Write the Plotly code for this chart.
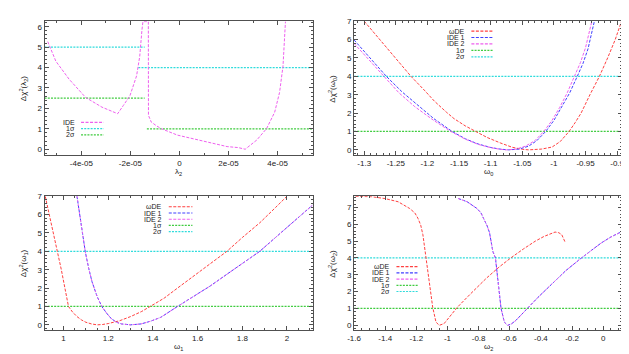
import plotly.graph_objects as go

W, H = 629, 354

RED, BLUE, MAG, GREEN, CYAN = "#ff4040", "#4040ff", "#ee60ee", "#40cc40", "#30dcdc"
CURVE_DASH = "3px,1.5px"
SIG_DASH = "2px,1.2px"

# ---------------- panel 1 : lambda_2 (IDE) ----------------
lam2 = [-5.37e-5, -5.04e-5, -4.50e-5, -3.83e-5, -3.16e-5, -2.52e-5, -2.29e-5, -2.02e-5,
        -1.75e-5, -1.62e-5, -1.53e-5, -1.49e-5, -1.27e-5, -1.265e-5, -1.21e-5, -1.15e-5,
        -0.94e-5, -0.75e-5, -0.08e-5, 0.60e-5, 1.27e-5, 1.94e-5, 2.40e-5, 2.68e-5,
        3.15e-5, 3.55e-5, 3.88e-5, 4.08e-5, 4.22e-5, 4.28e-5, 4.32e-5]
chi_lam2 = [5.27, 4.31, 3.43, 2.54, 2.06, 1.74, 2.14, 2.62,
            3.59, 4.55, 5.84, 6.25, 6.25, 1.66, 1.50, 1.33,
            1.15, 1.01, 0.69, 0.50, 0.29, 0.13, 0.08, 0.0,
            0.45, 1.01, 1.81, 2.78, 4.07, 5.19, 6.25]
# confidence levels drawn in panel 1 (broken lines)
p1_1sig_x = [-5.5e-5, -1.42e-5, None, -1.68e-5, 5.43e-5]
p1_1sig_y = [5, 5, None, 4, 4]
p1_2sig_x = [-5.5e-5, -1.42e-5, None, -1.33e-5, 5.43e-5]
p1_2sig_y = [2.5, 2.5, None, 1, 1]

# ---------------- panel 2 : omega_0 ----------------
w0_de = [-1.300, -1.280, -1.267, -1.245, -1.226, -1.205, -1.189, -1.170, -1.158, -1.140,
         -1.123, -1.106, -1.085, -1.066, -1.050, -1.040, -1.020, -1.003, -0.990, -0.976,
         -0.966, -0.957, -0.943, -0.928, -0.915, -0.903, -0.893]
chi_w0_de = [7.0, 6.2, 5.7, 4.8, 4.0, 3.25, 2.65, 2.05, 1.7, 1.3,
             1.0, 0.68, 0.38, 0.14, 0.03, 0.0, 0.04, 0.15, 0.45, 1.0,
             1.5, 2.0, 3.0, 4.0, 5.0, 6.0, 7.0]
w0_ide1 = [-1.316, -1.290, -1.265, -1.240, -1.215, -1.190, -1.161, -1.140, -1.120, -1.100,
           -1.085, -1.072, -1.055, -1.040, -1.027, -1.013, -1.000, -0.988, -0.975, -0.963,
           -0.954, -0.946, -0.936]
chi_w0_ide1 = [5.98, 4.95, 4.0, 3.15, 2.4, 1.7, 1.0, 0.6, 0.32, 0.13,
               0.04, 0.0, 0.04, 0.2, 0.5, 1.0, 1.6, 2.3, 3.1, 4.0,
               4.7, 5.5, 7.0]
w0_ide2 = [-1.316, -1.290, -1.270, -1.245, -1.220, -1.190, -1.163, -1.140, -1.120, -1.100,
           -1.085, -1.075, -1.060, -1.045, -1.030, -1.016, -1.003, -0.991, -0.979, -0.967,
           -0.958, -0.950, -0.940]
chi_w0_ide2 = [5.79, 4.8, 4.0, 3.1, 2.35, 1.6, 1.0, 0.58, 0.3, 0.12,
               0.03, 0.0, 0.04, 0.2, 0.5, 1.0, 1.6, 2.3, 3.1, 4.0,
               4.75, 5.55, 7.0]

# ---------------- panel 3 : omega_1 ----------------
w1_de = [0.918, 0.935, 0.952, 0.972, 0.990, 1.005, 1.022, 1.040, 1.060, 1.080,
         1.100, 1.125, 1.150, 1.175, 1.200, 1.250, 1.300, 1.350, 1.390, 1.450,
         1.510, 1.600, 1.700, 1.731, 1.800, 1.878, 1.950, 2.000]
chi_w1_de = [7.0, 6.0, 5.0, 4.0, 3.0, 2.0, 1.0, 0.7, 0.45, 0.27,
             0.14, 0.05, 0.0, 0.02, 0.07, 0.22, 0.45, 0.73, 1.0, 1.45,
             2.0, 2.8, 3.7, 4.0, 4.75, 5.55, 6.4, 7.0]
w1_ide = [1.060, 1.070, 1.082, 1.097, 1.112, 1.127, 1.150, 1.171, 1.195, 1.215,
          1.240, 1.259, 1.300, 1.347, 1.390, 1.435, 1.510, 1.580, 1.657, 1.760,
          1.878, 2.000, 2.113]
chi_w1_ide = [7.0, 6.2, 5.44, 4.0, 3.1, 2.36, 1.55, 1.0, 0.6, 0.32,
              0.13, 0.05, 0.0, 0.05, 0.2, 0.41, 1.0, 1.55, 2.12, 3.0,
              4.0, 5.3, 6.5]

# ---------------- panel 4 : omega_2 ----------------
w2_de = [-1.590, -1.540, -1.486, -1.402, -1.317, -1.243, -1.210, -1.190, -1.172, -1.158,
         -1.137, -1.116, -1.095, -1.074, -1.053, -1.022, -0.980, -0.937, -0.853, -0.750,
         -0.670, -0.594, -0.510, -0.436, -0.380, -0.330, -0.309, -0.285, -0.266, -0.245]
chi_w2_de = [7.66, 7.66, 7.64, 7.53, 7.34, 6.94, 6.68, 6.36, 5.95, 5.38,
             4.01, 2.45, 1.07, 0.19, 0.0, 0.1, 0.55, 1.07, 1.86, 2.8,
             3.45, 4.0, 4.55, 5.0, 5.28, 5.48, 5.54, 5.5, 5.38, 4.95]
w2_ide = [-0.930, -0.874, -0.811, -0.785, -0.769, -0.745, -0.730, -0.709, -0.692, -0.671,
          -0.656, -0.635, -0.614, -0.590, -0.561, -0.487, -0.420, -0.330, -0.240, -0.140,
          -0.070, -0.013, 0.050, 0.114]
chi_w2_ide = [7.53, 7.34, 6.94, 6.68, 6.36, 5.9, 5.5, 4.4, 4.0, 2.05,
              1.0, 0.19, 0.0, 0.08, 0.29, 1.0, 1.65, 2.45, 3.25, 4.0,
              4.5, 4.89, 5.25, 5.54]

x_ranges = [[-5.5e-5, 5.43e-5], [-1.316, -0.892], [0.915, 2.115], [-1.6, 0.122]]
y_ranges = [[-0.3, 6.27], [-0.3, 7.0], [-0.3, 7.0], [-0.3, 7.67]]

x_tickvals = [[-4e-5, -2e-5, 0, 2e-5, 4e-5],
              [-1.3, -1.25, -1.2, -1.15, -1.1, -1.05, -1.0, -0.95, -0.9],
              [1.0, 1.2, 1.4, 1.6, 1.8, 2.0],
              [-1.6, -1.4, -1.2, -1.0, -0.8, -0.6, -0.4, -0.2, 0.0]]
x_ticktext = [["-4e-05", "-2e-05", "0", "2e-05", "4e-05"],
              ["-1.3", "-1.25", "-1.2", "-1.15", "-1.1", "-1.05", "-1", "-0.95", "-0.9"],
              ["1", "1.2", "1.4", "1.6", "1.8", "2"],
              ["-1.6", "-1.4", "-1.2", "-1", "-0.8", "-0.6", "-0.4", "-0.2", "0"]]
x_minor = [1e-5, 0.01, 0.05, 0.05]
y_max_tick = [6, 7, 7, 7]

x_titles = ["λ<sub>2</sub>", "ω<sub>0</sub>", "ω<sub>1</sub>", "ω<sub>2</sub>"]
y_titles = ["Δχ<sup>2</sup>(λ<sub>2</sub>)", "Δχ<sup>2</sup>(ω<sub>0</sub>)",
            "Δχ<sup>2</sup>(ω<sub>1</sub>)", "Δχ<sup>2</sup>(ω<sub>2</sub>)"]

# plot boxes in pixels: left, top, right, bottom
boxes = [(30, 9.3, 302, 145), (344, 9.3, 616, 145),
         (30, 186.3, 302, 322), (344, 186.3, 616, 322)]


def px(x):
    return x / W


def py(y):
    return 1 - y / H


fig = go.Figure()


def add(i, x, y, color, dash, width=1.0):
    sfx = "" if i == 0 else str(i + 1)
    fig.add_trace(go.Scatter(x=x, y=y, mode="lines", xaxis="x" + sfx, yaxis="y" + sfx,
                             line=dict(color=color, width=width, dash=dash),
                             showlegend=False, hoverinfo="skip"))


# panel 1
add(0, p1_1sig_x, p1_1sig_y, CYAN, SIG_DASH, 1.2)
add(0, p1_2sig_x, p1_2sig_y, GREEN, SIG_DASH, 1.2)
add(0, lam2, chi_lam2, MAG, CURVE_DASH)

# panels 2-4 : confidence levels across the whole range
for i in (1, 2, 3):
    add(i, x_ranges[i], [1, 1], GREEN, SIG_DASH, 1.2)
    add(i, x_ranges[i], [4, 4], CYAN, SIG_DASH, 1.2)

add(1, w0_de, chi_w0_de, RED, CURVE_DASH)
add(1, w0_ide1, chi_w0_ide1, BLUE, CURVE_DASH)
add(1, w0_ide2, chi_w0_ide2, MAG, CURVE_DASH)

add(2, w1_de, chi_w1_de, RED, CURVE_DASH)
add(2, w1_ide, chi_w1_ide, BLUE, CURVE_DASH)
add(2, w1_ide, chi_w1_ide, MAG, "2px,2px")

add(3, w2_de, chi_w2_de, RED, CURVE_DASH)
add(3, w2_ide, chi_w2_ide, BLUE, CURVE_DASH)
add(3, w2_ide, chi_w2_ide, MAG, "2px,2px")

layout = dict(width=W, height=H, autosize=False, margin=dict(l=0, r=0, t=0, b=0),
              paper_bgcolor="white", plot_bgcolor="white",
              font=dict(family="Liberation Sans, Arial, sans-serif", size=8, color="#222"))

annotations = []
shapes = []
axis_common = dict(showline=True, linecolor="#505050", linewidth=1, mirror="allticks",
                   ticks="inside", ticklen=4, tickcolor="#505050", showgrid=False,
                   zeroline=False, tickfont=dict(size=8))

for i, (l, t, r, b) in enumerate(boxes):
    sfx = "" if i == 0 else str(i + 1)
    layout["xaxis" + sfx] = dict(axis_common, domain=[px(l), px(r)], range=x_ranges[i],
                                 anchor="y" + sfx, tickvals=x_tickvals[i],
                                 ticktext=x_ticktext[i],
                                 minor=dict(ticks="inside", ticklen=2, dtick=x_minor[i],
                                            tickcolor="#505050", showgrid=False))
    layout["yaxis" + sfx] = dict(axis_common, domain=[py(b), py(t)], range=y_ranges[i],
                                 anchor="x" + sfx, tickvals=list(range(0, y_max_tick[i] + 1)),
                                 minor=dict(ticks="inside", ticklen=2, dtick=0.2,
                                            tickcolor="#505050", showgrid=False))
    # axis titles
    annotations.append(dict(x=px((l + r) / 2), y=py(b + 16.5), xref="paper", yref="paper",
                            text=x_titles[i], showarrow=False, font=dict(size=8),
                            xanchor="center", yanchor="middle"))
    annotations.append(dict(x=px(l - 22), y=py((t + b) / 2), xref="paper", yref="paper",
                            text=y_titles[i], showarrow=False, font=dict(size=8),
                            textangle=-90, xanchor="center", yanchor="middle"))

# key boxes: (text right edge, first row y, row step, sample start, sample end)
keys = [
    (63, 111.7, 6.3, 67, 90, ["IDE", "1σ", "2σ"],
     [(MAG, CURVE_DASH), (CYAN, SIG_DASH), (GREEN, SIG_DASH)]),
    (459, 19.3, 6.5, 463, 485, ["ωDE", "IDE 1", "IDE 2", "1σ", "2σ"],
     [(RED, CURVE_DASH), (BLUE, CURVE_DASH), (MAG, CURVE_DASH), (GREEN, SIG_DASH), (CYAN, SIG_DASH)]),
    (151, 197.0, 6.3, 156, 180, ["ωDE", "IDE 1", "IDE 2", "1σ", "2σ"],
     [(RED, CURVE_DASH), (BLUE, CURVE_DASH), (MAG, CURVE_DASH), (GREEN, SIG_DASH), (CYAN, SIG_DASH)]),
    (382, 257.5, 6.3, 387, 409, ["ωDE", "IDE 1", "IDE 2", "1σ", "2σ"],
     [(RED, CURVE_DASH), (BLUE, CURVE_DASH), (MAG, CURVE_DASH), (GREEN, SIG_DASH), (CYAN, SIG_DASH)]),
]
for xr, y0, dy, s0, s1, labels, styles in keys:
    for k, (lab, (col, dsh)) in enumerate(zip(labels, styles)):
        yy = y0 + k * dy
        annotations.append(dict(x=px(xr), y=py(yy), xref="paper", yref="paper", text=lab,
                                showarrow=False, font=dict(size=7), xanchor="right",
                                yanchor="middle"))
        shapes.append(dict(type="line", xref="paper", yref="paper", x0=px(s0), x1=px(s1),
                           y0=py(yy), y1=py(yy), line=dict(color=col, width=1.2, dash=dsh)))

layout["annotations"] = annotations
layout["shapes"] = shapes
fig.update_layout(**layout)
fig.write_html("out.html")
